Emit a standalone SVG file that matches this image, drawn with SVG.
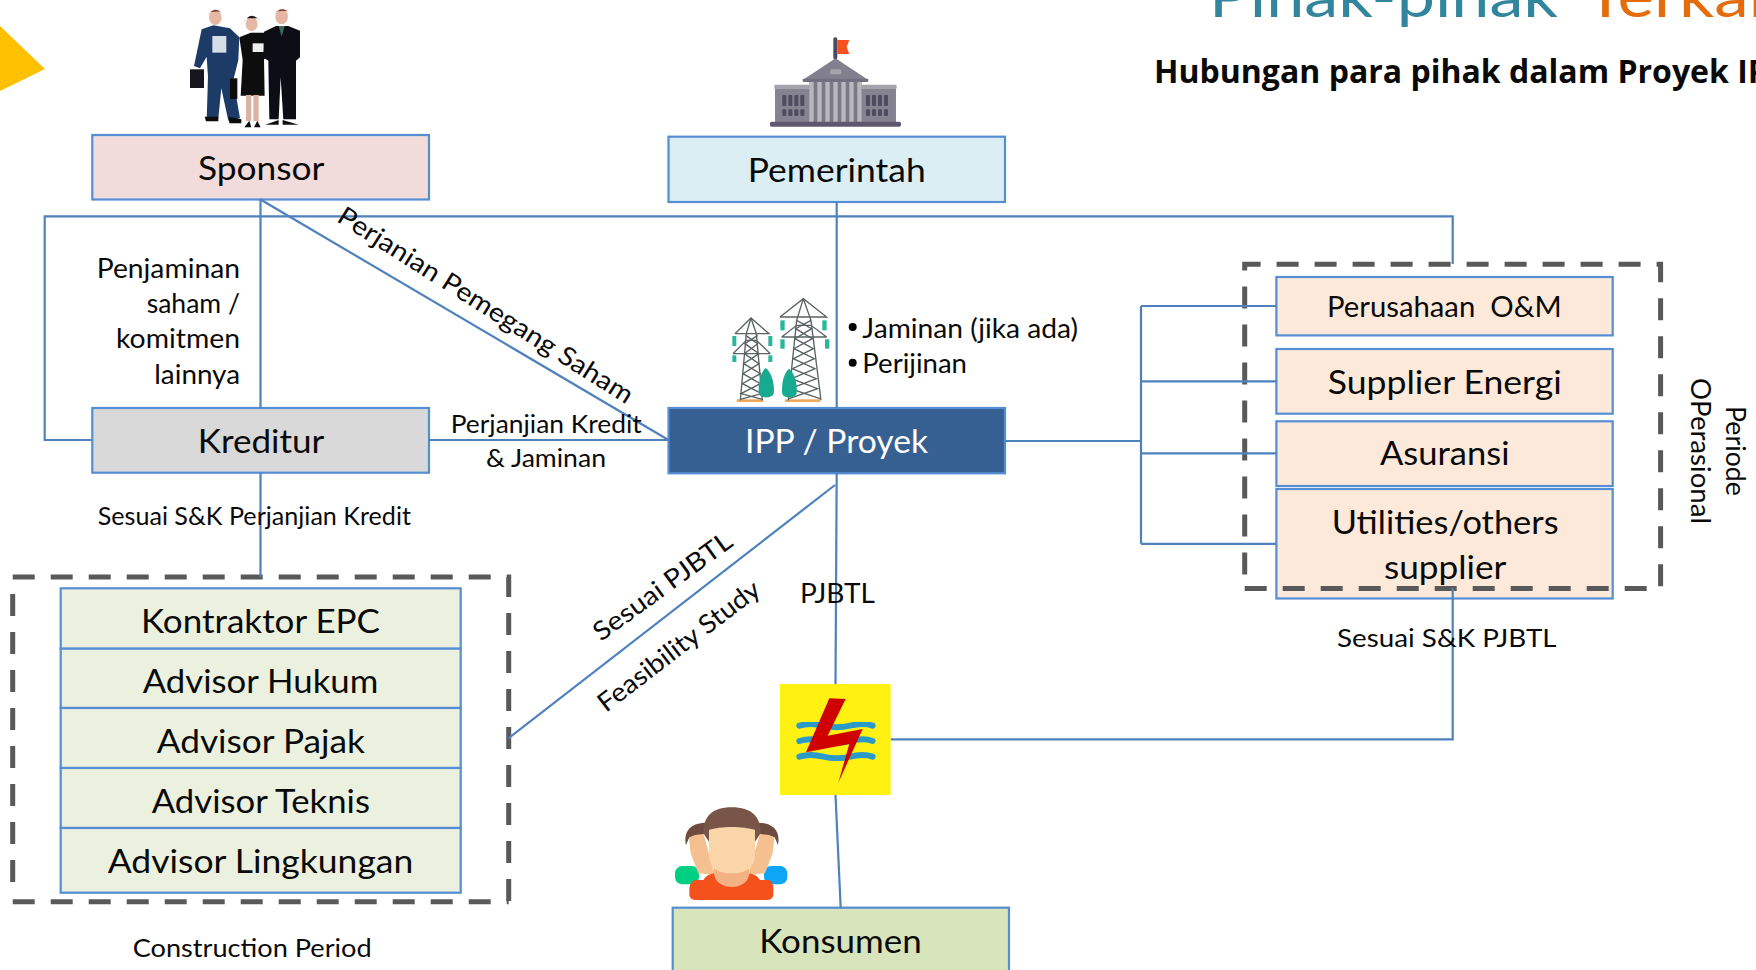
<svg xmlns="http://www.w3.org/2000/svg" width="1756" height="970" viewBox="0 0 1756 970">
<style>
text{font-family:"Lato","Noto Sans",sans-serif;fill:#0a0a0a}
.xl{font-size:33px}.m{font-size:26px}.s{font-size:25px}
.box{stroke:#558ed5;stroke-width:2.2}
.dash{fill:none;stroke:#595959;stroke-width:5;stroke-dasharray:22 16}
.conn{fill:none;stroke:#4f81bd;stroke-width:2.2}
.soft{filter:url(#b)}
</style>
<defs><filter id="b" x="-5%" y="-5%" width="110%" height="110%"><feGaussianBlur stdDeviation="2"/></filter></defs>
<rect width="1756" height="970" fill="#fff"/>
<polygon id="accent" points="0,26 45,69 0,91" fill="#ffc000"/>
<g id="title">
<text x="1209" y="17" font-size="59" style="fill:#31859c" textLength="349" lengthAdjust="spacingAndGlyphs">Pihak-pihak</text>
<text x="1585" y="17" font-size="59" style="fill:#e46c0a" textLength="205" lengthAdjust="spacingAndGlyphs">Terkait</text>
<text x="1154" y="83" font-size="32" font-weight="700" textLength="634" lengthAdjust="spacingAndGlyphs" style="font-family:'Open Sans','Noto Sans',sans-serif">Hubungan para pihak dalam Proyek IPP</text>
</g>
<g id="icon-sponsor" class="soft" transform="translate(180,0) scale(0.3333)">
<path d="M65,88 L100,76 L150,85 L178,112 L175,180 L160,240 L180,355 L145,362 L124,265 L115,355 L80,362 L84,230 L80,170 L60,205 L42,198Z" fill="#1d3a66"/>
<rect x="30" y="208" width="42" height="56" fill="#15171c"/>
<rect x="150" y="235" width="22" height="62" fill="#111"/>
<rect x="97" y="108" width="42" height="50" fill="#d4dde8"/>
<ellipse cx="106" cy="52" rx="19" ry="23" fill="#e5b8a6"/><path d="M82,48 Q104,12 130,44 L120,34 L92,36Z" fill="#7a3b2e"/>
<path d="M74,350 H115 V364 H78Z M146,350 L184,358 V370 H148Z" fill="#111"/>
<path d="M178,112 L212,98 L258,98 L268,170 L252,178 L254,287 L182,287 L188,180Z" fill="#111"/>
<rect x="198" y="285" width="16" height="78" fill="#d9b3a3"/><rect x="220" y="285" width="16" height="78" fill="#d9b3a3"/>
<ellipse cx="215" cy="72" rx="18" ry="21" fill="#e5b8a6"/><path d="M188,72 Q215,22 245,72 L233,55 L200,55Z" fill="#1c1616"/>
<rect x="218" y="130" width="40" height="26" fill="#eee"/>
<path d="M193,382 L208,362 L214,382Z M222,382 L232,362 L242,382Z" fill="#111"/>
<path d="M252,95 L288,78 L325,78 L360,92 L360,172 L348,182 L348,358 L310,358 L302,232 L296,358 L268,358 L265,182 L250,172Z" fill="#0e0f12"/>
<ellipse cx="305" cy="50" rx="19" ry="23" fill="#e5b8a6"/><path d="M281,45 Q305,12 332,42 L322,32 L290,34Z" fill="#8a4a30"/>
<path d="M296,78 H314 L305,110Z" fill="#3c6b5c"/>
<path d="M256,374 L296,360 V374Z M308,360 L356,374 H308Z" fill="#111"/>
</g>
<g id="icon-gov" transform="translate(650,0) scale(0.3333)">
<rect x="550" y="112" width="12" height="66" rx="5" fill="#4d4a63"/>
<path d="M562,120 H598 L590,141 L598,162 H562Z" fill="#f4511e"/>
<rect x="375" y="262" width="363" height="104" fill="#85838f"/>
<rect x="373" y="254" width="367" height="13" rx="3" fill="#a5a3ac"/>
<path d="M458,240 L557,175 L655,240 Z" fill="#82808e"/>
<rect x="458" y="236" width="197" height="10" rx="4" fill="#71707f"/>
<rect x="540" y="208" width="34" height="15" rx="5" fill="#a5a3ac"/>
<rect x="478" y="246" width="157" height="120" fill="#7b7986"/>
<g fill="#b9b7be"><rect x="478" y="246" width="13" height="120"/><rect x="502" y="246" width="13" height="120"/><rect x="526" y="246" width="13" height="120"/><rect x="550" y="246" width="13" height="120"/><rect x="574" y="246" width="13" height="120"/><rect x="598" y="246" width="13" height="120"/><rect x="622" y="246" width="13" height="120"/></g>
<g fill="#4f4c60"><rect x="397" y="285" width="12" height="33" rx="3"/><rect x="415" y="285" width="12" height="33" rx="3"/><rect x="433" y="285" width="12" height="33" rx="3"/><rect x="451" y="285" width="12" height="33" rx="3"/><rect x="397" y="328" width="12" height="20" rx="3"/><rect x="415" y="328" width="12" height="20" rx="3"/><rect x="433" y="328" width="12" height="20" rx="3"/><rect x="451" y="328" width="12" height="20" rx="3"/><rect x="648" y="285" width="12" height="33" rx="3"/><rect x="666" y="285" width="12" height="33" rx="3"/><rect x="684" y="285" width="12" height="33" rx="3"/><rect x="702" y="285" width="12" height="33" rx="3"/><rect x="648" y="328" width="12" height="20" rx="3"/><rect x="666" y="328" width="12" height="20" rx="3"/><rect x="684" y="328" width="12" height="20" rx="3"/><rect x="702" y="328" width="12" height="20" rx="3"/></g>
<rect x="360" y="365" width="393" height="15" rx="5" fill="#5d5870"/>
</g>
<g id="icon-towers" class="soft" transform="translate(725,292) scale(0.3333)">
<rect x="35" y="322" width="80" height="8" fill="#eda95c"/><rect x="180" y="322" width="105" height="8" fill="#eda95c"/>
<g fill="none" stroke="#5a6262" stroke-width="4">
<path d="M78,78 L64,125 L46,325 M78,78 L94,125 L112,325"/>
<path d="M30,125 H132 L78,78 L30,125 M24,185 L64,145 H94 L136,185 M24,185 H136"/>
<path d="M62,130 L98,155 L58,185 L102,215 L54,245 L106,275 L48,305 L112,322 M98,130 L60,155 L102,185 L56,215 L106,245 L52,275 L110,305 L46,322"/>
<path d="M235,20 L215,85 L190,325 M235,20 L258,85 L288,325"/>
<path d="M165,75 H305 L235,20 L165,75 M170,135 L215,100 H258 L305,135 M170,135 H305"/>
<path d="M215,85 L260,110 L210,140 L265,170 L205,200 L270,230 L200,260 L278,290 L192,320 M258,85 L212,110 L262,140 L207,170 L268,200 L202,230 L274,260 L196,290 L285,320"/>
</g>
<g fill="#2bb69a"><rect x="22" y="132" width="12" height="30"/><rect x="130" y="132" width="12" height="30"/><rect x="22" y="190" width="12" height="20"/><rect x="130" y="190" width="12" height="20"/><rect x="166" y="85" width="13" height="30"/><rect x="292" y="85" width="13" height="30"/><rect x="166" y="142" width="13" height="28"/><rect x="300" y="142" width="13" height="28"/></g>
<path d="M122,228 C140,240 150,280 146,305 C140,320 106,320 102,305 C98,280 106,240 122,228Z" fill="#16ab90"/>
<path d="M192,230 C210,242 218,280 215,305 C208,320 176,320 172,305 C168,280 176,242 192,230Z" fill="#16ab90"/>
</g>
<g id="node-sponsor"><rect class="box" x="92.3" y="135" width="336.7" height="64.5" fill="#f2dcdb"/><text class="xl" x="197.9" y="180" textLength="126.6" lengthAdjust="spacingAndGlyphs">Sponsor</text></g>
<g id="node-pemerintah"><rect class="box" x="668.5" y="136.7" width="336.5" height="65.3" fill="#dbeef4"/><text class="xl" x="747.7" y="181.7" textLength="178" lengthAdjust="spacingAndGlyphs">Pemerintah</text></g>
<g id="node-kreditur"><rect class="box" x="92.3" y="408" width="336.7" height="64.7" fill="#d9d9d9"/><text class="xl" x="197.7" y="452.7" textLength="126.6" lengthAdjust="spacingAndGlyphs">Kreditur</text></g>
<g id="node-ipp"><rect class="box" x="668.5" y="408" width="336.5" height="65.3" fill="#376092"/><text class="xl" x="745" y="452.7" textLength="183" lengthAdjust="spacingAndGlyphs" style="fill:#fff">IPP / Proyek</text></g>
<g id="node-om"><rect class="box" x="1276.4" y="277" width="336.3" height="58.4" fill="#fde9d9"/><text x="1327" y="317" font-size="29" textLength="234.7" lengthAdjust="spacingAndGlyphs" xml:space="preserve">Perusahaan  O&amp;M</text></g>
<g id="node-energi"><rect class="box" x="1276.4" y="349" width="336.3" height="64.7" fill="#fde9d9"/><text class="xl" x="1327.8" y="393.5" textLength="233.9" lengthAdjust="spacingAndGlyphs">Supplier Energi</text></g>
<g id="node-asuransi"><rect class="box" x="1276.4" y="421.3" width="336.3" height="64.7" fill="#fde9d9"/><text class="xl" x="1380" y="465" textLength="129.5" lengthAdjust="spacingAndGlyphs">Asuransi</text></g>
<g id="node-utilities"><rect class="box" x="1276.4" y="489" width="336.3" height="109.5" fill="#fde9d9"/><text class="xl" x="1331.7" y="533.7" textLength="226.9" lengthAdjust="spacingAndGlyphs">Utilities/others</text><text class="xl" x="1383.9" y="578.7" textLength="122.5" lengthAdjust="spacingAndGlyphs">supplier</text></g>
<g id="node-epc"><rect class="box" x="60.7" y="588.3" width="400" height="60.4" fill="#ebf1de"/><text class="xl" x="141" y="632.5" textLength="239" lengthAdjust="spacingAndGlyphs">Kontraktor EPC</text></g>
<g id="node-hukum"><rect class="box" x="60.7" y="648.7" width="400" height="59.3" fill="#ebf1de"/><text class="xl" x="142.7" y="692.7" textLength="235.6" lengthAdjust="spacingAndGlyphs">Advisor Hukum</text></g>
<g id="node-pajak"><rect class="box" x="60.7" y="708" width="400" height="60" fill="#ebf1de"/><text class="xl" x="156.7" y="752.7" textLength="208.3" lengthAdjust="spacingAndGlyphs">Advisor Pajak</text></g>
<g id="node-teknis"><rect class="box" x="60.7" y="768" width="400" height="60" fill="#ebf1de"/><text class="xl" x="151.7" y="812.7" textLength="218.3" lengthAdjust="spacingAndGlyphs">Advisor Teknis</text></g>
<g id="node-lingkungan"><rect class="box" x="60.7" y="828" width="400" height="64.7" fill="#ebf1de"/><text class="xl" x="107.7" y="872.7" textLength="305.6" lengthAdjust="spacingAndGlyphs">Advisor Lingkungan</text></g>
<g id="node-konsumen"><rect class="box" x="672.7" y="907.7" width="336.3" height="80" fill="#d7e4bc"/><text class="xl" x="759.3" y="952.7" textLength="162.4" lengthAdjust="spacingAndGlyphs">Konsumen</text></g>
<g id="group-construction">
<path class="dash" d="M12.7,577 H508.7 V901.7"/>
<path class="dash" d="M12.7,901.7 H508.7"/>
<path class="dash" d="M12.7,594 V895"/>
</g>
<g id="group-operational"><path class="dash" d="M1244.7,588.4 H1660.6 V264.3 H1244.7 V588.4"/></g>
<g id="connectors">
<path class="conn" d="M92.3,440 H44.7 V216.3 H1452.7 V264"/>
<path class="conn" d="M260.5,199.5 V408 M260.5,472.7 V577"/>
<path class="conn" d="M260.5,199.5 L668.5,440"/>
<path class="conn" d="M429,440 H668.5"/>
<path class="conn" d="M836.7,202 V408"/>
<path class="conn" d="M836.7,473.3 L835.5,684"/>
<path class="conn" d="M835,485 L508.3,738.3"/>
<path class="conn" d="M835.5,795 L840.7,907.7"/>
<path class="conn" d="M890.7,739.3 H1452.7 V588"/>
<path class="conn" d="M1005,441 H1141 M1141,306 V543.8 M1141,306 H1276.4 M1141,381.3 H1276.4 M1141,453.3 H1276.4 M1141,543.8 H1276.4"/>
</g>
<g id="node-pln" transform="translate(640,660) scale(0.3333)">
<rect x="420" y="72" width="332" height="333" fill="#fff212"/>
<g class="soft" fill="none" stroke="#2a9bc9" stroke-width="18" stroke-linecap="round"><path d="M478,197 Q510,187 550,197 T630,197 T698,197"/><path d="M478,243 Q510,233 550,243 T630,243 T698,243"/><path d="M478,290 Q510,280 550,290 T630,290 T698,290"/></g>
<path class="soft" d="M568,115 L617,117 L563,227 L668,207 L595,368 L628,252 L498,277Z" fill="#d00000"/>
</g>
<g id="icon-konsumen" class="soft" transform="translate(670,800) scale(0.3333)">
<rect x="15" y="198" width="72" height="55" rx="22" fill="#00d084"/>
<rect x="282" y="198" width="70" height="55" rx="22" fill="#0aa5f5"/>
<path d="M56,105 L100,100 L135,225 L85,220 L62,160Z" fill="#f5c08f"/>
<path d="M314,105 L270,100 L235,225 L285,220 L308,160Z" fill="#f5c08f"/>
<path d="M48,135 C40,95 60,68 110,68 L118,100 L75,105 L58,112Z" fill="#6d4c41"/>
<path d="M324,135 C332,95 312,68 262,68 L254,100 L297,105 L314,112Z" fill="#6d4c41"/>
<path d="M100,240 Q110,222 135,220 H235 Q260,222 270,240 L296,240 Q310,245 310,265 V285 Q308,300 290,300 H78 Q60,300 58,285 V265 Q60,245 75,240Z" fill="#f4511e"/>
<path d="M132,200 H238 V220 C235,275 135,275 132,220Z" fill="#f4b183"/>
<path d="M100,100 C100,50 125,22 185,22 C245,22 272,50 272,100 L255,125 H117Z" fill="#795548"/>
<path d="M117,90 C150,78 220,78 255,90 V170 C250,215 210,220 185,220 C160,220 122,215 117,170Z" fill="#f9d5a7"/>
</g>
<g id="labels">
<text class="m" x="96.7" y="278.3" textLength="143.3" lengthAdjust="spacingAndGlyphs">Penjaminan</text>
<text class="m" x="146.7" y="313.3" textLength="93.3" lengthAdjust="spacingAndGlyphs">saham /</text>
<text class="m" x="116" y="347.7" textLength="124" lengthAdjust="spacingAndGlyphs">komitmen</text>
<text class="m" x="154.3" y="384" textLength="85.7" lengthAdjust="spacingAndGlyphs">lainnya</text>
<text class="s" x="97.7" y="525" textLength="313.3" lengthAdjust="spacingAndGlyphs">Sesuai S&amp;K Perjanjian Kredit</text>
<text class="s" x="450.7" y="433.3" textLength="191" lengthAdjust="spacingAndGlyphs">Perjanjian Kredit</text>
<text class="s" x="486" y="466.7" textLength="120" lengthAdjust="spacingAndGlyphs">&amp; Jaminan</text>
<text class="m" transform="translate(335.5,220.7) rotate(32.3)" textLength="344" lengthAdjust="spacingAndGlyphs">Perjanian Pemegang Saham</text>
<circle cx="852.7" cy="327" r="4"/><circle cx="852.7" cy="362.7" r="4"/>
<text class="m" x="862.3" y="338.3" textLength="215.7" lengthAdjust="spacingAndGlyphs">Jaminan (jika ada)</text>
<text class="m" x="862.3" y="373.3" textLength="104.7" lengthAdjust="spacingAndGlyphs">Perijinan</text>
<text class="m" transform="translate(601,642) rotate(-36)" textLength="165" lengthAdjust="spacingAndGlyphs">Sesuai PJBTL</text>
<text class="m" transform="translate(606,713) rotate(-37.5)" textLength="197" lengthAdjust="spacingAndGlyphs">Feasibility Study</text>
<text class="m" x="800" y="602.7" textLength="75" lengthAdjust="spacingAndGlyphs">PJBTL</text>
<text class="s" x="1337" y="647" textLength="219.6" lengthAdjust="spacingAndGlyphs">Sesuai S&amp;K PJBTL</text>
<text class="s" x="132.7" y="956.7" textLength="239" lengthAdjust="spacingAndGlyphs">Construction Period</text>
<text class="m" transform="translate(1726,406) rotate(90)" textLength="90" lengthAdjust="spacingAndGlyphs">Periode</text>
<text class="m" transform="translate(1691,378) rotate(90)" textLength="146" lengthAdjust="spacingAndGlyphs">OPerasional</text>
</g>
</svg>
